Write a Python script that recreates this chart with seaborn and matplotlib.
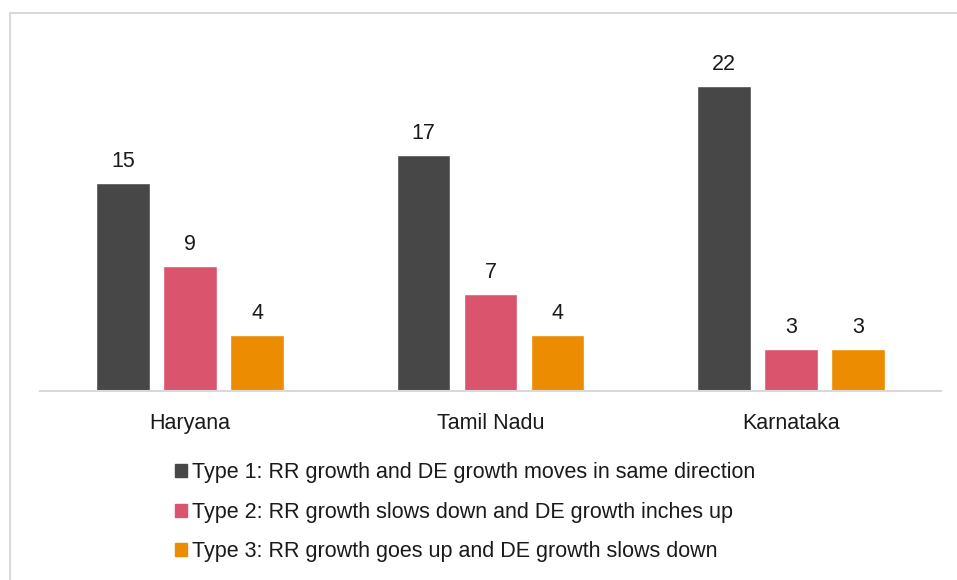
import seaborn as sns
import matplotlib.pyplot as plt
import matplotlib.patches as mpatches
import pandas as pd

states = ["Haryana", "Tamil Nadu", "Karnataka"]
types = [
    "Type 1: RR growth and DE growth moves in same direction",
    "Type 2: RR growth slows down and DE growth inches up",
    "Type 3: RR growth goes up and DE growth slows down",
]
type1 = [15, 17, 22]
type2 = [9, 7, 3]
type3 = [4, 4, 3]
colors = ["#474747", "#DB546E", "#EC8C00"]

df = pd.DataFrame({
    "state": states * 3,
    "type": [types[0]] * 3 + [types[1]] * 3 + [types[2]] * 3,
    "value": type1 + type2 + type3,
})

sns.set_style("white")
plt.rcParams["font.family"] = ["Liberation Sans", "DejaVu Sans"]

W, H = 957, 580
fs = 15.5
fig = plt.figure(figsize=(W / 100, H / 100), dpi=100)
ax = fig.add_axes([40 / W, 1 - 391 / H, (941 - 40) / W, (391 - 44) / H])

sns.barplot(df, x="state", y="value", hue="type", palette=colors,
            width=0.67, gap=0.2, ax=ax, legend=False, saturation=1)

for c in ax.containers:
    ax.bar_label(c, padding=8, fontsize=fs, color="#1a1a1a")

ax.set_xlim(-0.5, 2.5)
ax.set_ylim(0, 25)
ax.set_xlabel("")
ax.set_ylabel("")
ax.set_yticks([])
ax.tick_params(axis="x", labelsize=fs, length=0, pad=16, colors="#1a1a1a")
for s in ["top", "right", "left"]:
    ax.spines[s].set_visible(False)
ax.spines["bottom"].set_color("#d9d9d9")
ax.spines["bottom"].set_linewidth(1.5)

handles = [mpatches.Patch(color=col, label=t) for col, t in zip(colors, types)]
fig.legend(handles=handles, loc="upper left", bbox_to_anchor=(156 / W, 1 - 443 / H),
           frameon=False, fontsize=fs, handlelength=0.55, handleheight=0.55,
           handletextpad=0.2, labelspacing=0.86, labelcolor="#1a1a1a")

border = mpatches.Rectangle((10 / W, -0.1), 1.2, 1 - 13 / H + 0.1,
                            transform=fig.transFigure, fill=False,
                            edgecolor="#d9d9d9", linewidth=1.5)
fig.patches.append(border)

fig.savefig("out.png", dpi=100)
